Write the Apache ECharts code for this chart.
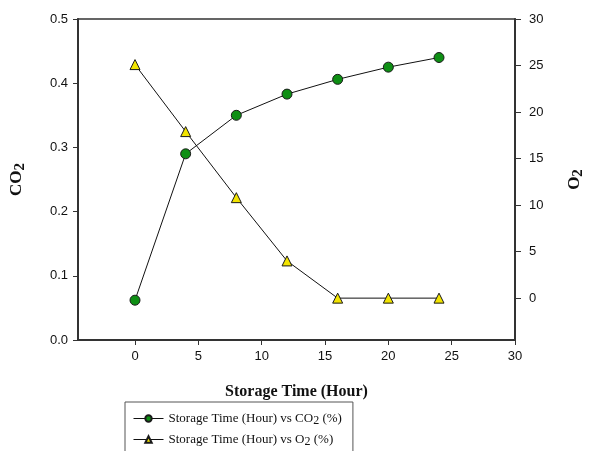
<!DOCTYPE html>
<html>
<head>
<meta charset="utf-8">
<script src="https://cdn.jsdelivr.net/npm/echarts@6/dist/echarts.min.js"></script>
<style>
  html, body { margin: 0; padding: 0; background: #fff; }
  #chart { width: 594px; height: 451px; }
</style>
</head>
<body>
<div id="chart"></div>
<script>
const hours = [0, 4, 8, 12, 16, 20, 24];
const co2 = [0.062, 0.29, 0.35, 0.383, 0.406, 0.425, 0.44];
const o2 = [25.1, 17.9, 10.8, 4.0, 0, 0, 0];
const xTicks = [0, 5, 10, 15, 20, 25, 30];
const o2Ticks = [0, 5, 10, 15, 20, 25, 30];

const serif = "'Liberation Serif', 'Times New Roman', serif";
const sans = "'Liberation Sans', Arial, sans-serif";

const subRich = {
  b: { fontFamily: serif, fontWeight: "bold", fontSize: 17, color: "#111" },
  s: { fontFamily: serif, fontWeight: "bold", fontSize: 15, color: "#111", padding: [8, 0, 0, 0] }
};

const option = {
  animation: false,
  grid: {
    left: 76, top: 19, right: 59, bottom: 111,
    show: true, borderColor: "#333", borderWidth: 1.5
  },
  xAxis: {
    type: "value", min: -4.5, max: 30,
    name: "Storage Time (Hour)", nameLocation: "middle", nameGap: 44,
    nameTextStyle: { fontFamily: serif, fontWeight: "bold", fontSize: 16, color: "#111" },
    axisLine: { onZero: false, lineStyle: { color: "#333", width: 2 } },
    axisTick: { customValues: xTicks, length: 5, lineStyle: { color: "#333" } },
    axisLabel: { customValues: xTicks, margin: 10, fontFamily: sans, fontSize: 13, color: "#111" },
    splitLine: { show: false }
  },
  yAxis: [
    {
      type: "value", min: 0, max: 0.5, interval: 0.1, position: "left",
      name: "{b|CO}{s|2}", nameLocation: "middle", nameGap: 50, nameRotate: 90,
      nameTextStyle: { rich: subRich },
      axisLine: { show: true, onZero: false, lineStyle: { color: "#333", width: 2 } },
      axisTick: { show: true, length: 5, lineStyle: { color: "#333" } },
      axisLabel: { margin: 10, fontFamily: sans, fontSize: 13, color: "#111",
                   formatter: (v) => v.toFixed(1) },
      splitLine: { show: false }
    },
    {
      type: "value", min: -4.5, max: 30, position: "right",
      name: "{b|O}{s|2}", nameLocation: "middle", nameGap: 48, nameRotate: 90,
      nameTextStyle: { rich: subRich },
      axisLine: { show: true, onZero: false, lineStyle: { color: "#333", width: 2 } },
      axisTick: { show: true, customValues: o2Ticks, length: 6, lineStyle: { color: "#333" } },
      axisLabel: { customValues: o2Ticks, margin: 14, fontFamily: sans, fontSize: 13, color: "#111" },
      splitLine: { show: false }
    }
  ],
  legend: {
    orient: "vertical", left: 125, top: 402, height: 120,
    padding: [10, 11, 30, 8], itemGap: 6, itemWidth: 30, itemHeight: 8,
    borderColor: "#555", borderWidth: 1,
    lineStyle: { width: 1 },
    data: ["co2", "o2"],
    formatter: (n) => n === "co2"
      ? "Storage Time (Hour) vs CO{s|2} (%)"
      : "Storage Time (Hour) vs O{s|2} (%)",
    textStyle: {
      fontFamily: serif, fontSize: 13, color: "#111",
      rich: { s: { fontFamily: serif, fontSize: 12, color: "#111", padding: [5, 0, 0, 0] } }
    }
  },
  series: [
    {
      name: "co2", type: "line", yAxisIndex: 0,
      data: hours.map((h, i) => [h, co2[i]]),
      symbol: "circle", symbolSize: 10,
      lineStyle: { color: "#111", width: 1 },
      itemStyle: { color: "#0e8f14", borderColor: "#1a1a1a", borderWidth: 1 }
    },
    {
      name: "o2", type: "line", yAxisIndex: 1,
      data: hours.map((h, i) => [h, o2[i]]),
      symbol: "triangle", symbolSize: 10,
      lineStyle: { color: "#111", width: 1 },
      itemStyle: { color: "#f2e400", borderColor: "#1a1a1a", borderWidth: 1 }
    }
  ]
};

const chart = echarts.init(document.getElementById("chart"));
chart.setOption(option);
</script>
</body>
</html>
